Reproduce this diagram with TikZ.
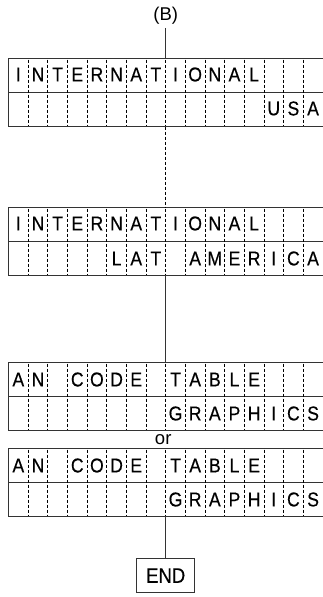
\documentclass[tikz,border=0pt]{standalone}
\usepackage{fontspec}
\newfontfamily\lcdfont[FakeStretch=0.88, FakeBold=0.4]{Liberation Sans}
\newfontfamily\lblfont{Liberation Sans}
\usetikzlibrary{positioning, calc}

\begin{document}
\begin{tikzpicture}[x=1pt, y=-1pt,
  lcd/.style = {draw=black!80, line width=1.2pt, minimum width=317.4pt, minimum height=68pt, inner sep=0pt, outer sep=0pt},
  cellsep/.style = {black, line width=0.8pt, dash pattern=on 3pt off 2pt},
  conn/.style = {draw=black!80, line width=1.2pt},
  chr/.style = {font=\fontsize{20pt}{24pt}\lcdfont\selectfont, inner sep=0pt},
  lbl/.style = {font=\fontsize{18.5pt}{22pt}\lblfont\selectfont, inner sep=3pt}
]
\useasboundingbox (0,0) rectangle (323,597);

% displays
\node[lcd, anchor=north west] (d1) at (8.5,58.5) {};
\node[lcd, below=81pt of d1] (d2) {};
\node[lcd, below=87pt of d2] (d3) {};
\node[lcd, below=18pt of d3] (d4) {};

%--- row line and cell separators
\foreach \d in {d1,d2,d3,d4}{
  \draw[conn] (\d.west) -- (\d.east);
  \foreach \k in {1,...,15}
    \draw[cellsep] ($(\d.north west)+(\k*19.65,1)$) -- ($(\d.south west)+(\k*19.65,-1)$);
}

%--- first lines
\foreach \d in {d1,d2}
  \foreach \ch [count=\i] in {I,N,T,E,R,N,A,T,I,O,N,A,L}
    \node[chr] (\d-a\i) at ($(\d.north west)+(\i*19.65-9.825,16)$) {\ch};
\foreach \d in {d3,d4}
  \foreach \ch [count=\i] in {A,N,{},C,O,D,E,{},T,A,B,L,E}
    \node[chr] (\d-a\i) at ($(\d.north west)+(\i*19.65-9.825,17)$) {\ch};

%--- second lines
\foreach \ch [count=\i from 14] in {U,S,A}
  \node[chr] (d1-b\i) at ($(d1.north west)+(\i*19.65-9.825,50)$) {\ch};
\foreach \ch [count=\i from 6] in {L,A,T,{},A,M,E,R,I,C,A}
  \node[chr] (d2-b\i) at ($(d2.north west)+(\i*19.65-9.825,51)$) {\ch};
\foreach \d in {d3,d4}
  \foreach \ch [count=\i from 9] in {G,R,A,P,H,I,C,S}
    \node[chr] (\d-b\i) at ($(\d.north west)+(\i*19.65-9.825,51)$) {\ch};

%--- flow
\node[lbl] (B) at (165.7,16) {(B)};
\draw[conn] (B) -- (B |- d1.north);
\draw[cellsep] (B |- d1.south) -- (B |- d2.north);
\draw[conn] (B |- d2.south) -- (B |- d3.north);
\node[lbl, inner sep=0pt, xshift=-2.5pt] (or) at ($(B |- d3.south)!0.5!(B |- d4.north)$) {or};

% END
\coordinate (d4out) at (B |- d4.south);
\node[conn, font=\fontsize{21pt}{25pt}\lcdfont\selectfont, minimum width=58pt, minimum height=34pt, inner sep=0pt, below=41.5pt of d4out] (end) {END};
\draw[conn] (d4out) -- (end);

\end{tikzpicture}
\end{document}
